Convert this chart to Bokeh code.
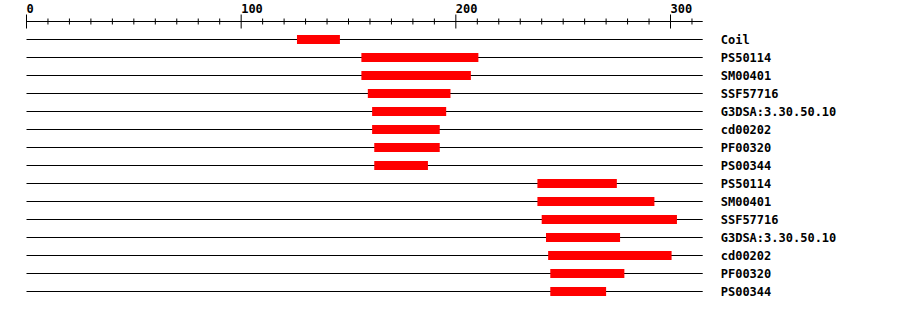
from bokeh.plotting import figure
from bokeh.models import Range1d, ColumnDataSource
from bokeh.core.properties import value
from bokeh.embed import file_html
from bokeh.resources import INLINE

# ---- data ----
labels = ["Coil", "PS50114", "SM00401", "SSF57716", "G3DSA:3.30.50.10", "cd00202",
          "PF00320", "PS00344", "PS50114", "SM00401", "SSF57716",
          "G3DSA:3.30.50.10", "cd00202", "PF00320", "PS00344"]
starts = [126, 156, 156, 159, 161, 161, 162, 162, 238, 238, 240, 242, 243, 244, 244]
ends = [146, 210.5, 207, 197.5, 195.5, 192.5, 192.5, 187, 275, 292.5, 303, 276.5, 300.5, 278.5, 270]
seq_length = 315
major_ticks = [0, 100, 200, 300]
major_labels = ["0", "100", "200", "300"]
minor_ticks = [t for t in range(10, 320, 10) if t % 100 != 0]

W, H = 900, 310
x0_px, px_per_unit = 26.0, 2.1467
row0_px, row_step = 39.0, 18.0

x_range = Range1d(-x0_px / px_per_unit, (W - x0_px) / px_per_unit)
y_range = Range1d((H - row0_px) / row_step, -row0_px / row_step)

p = figure(width=W, height=H, x_range=x_range, y_range=y_range,
           output_backend="svg", toolbar_location=None,
           x_axis_location=None, y_axis_location=None, min_border=0)
p.grid.visible = False
p.outline_line_color = None
p.background_fill_color = "white"
p.border_fill_color = "white"

rows = list(range(len(labels)))
src = ColumnDataSource(dict(y=rows, start=starts, end=ends, label=labels,
                            x0=[0] * len(rows), x1=[seq_length] * len(rows)))

# baselines
p.segment(x0="x0", y0="y", x1="x1", y1="y", source=src, line_color="black", line_width=1)
# feature bars
p.hbar(y="y", left="start", right="end", height=0.5, source=src,
       fill_color="#ff0000", line_color=None)
# labels
p.text(x="x1", y="y", text="label", source=src, x_offset=18,
       text_font=value("DejaVu Sans Mono"), text_font_style="bold",
       text_font_size="12px", text_baseline="middle", text_align="left",
       text_color="black")

# ruler
axis_y = -1.0
p.segment(x0=[0], y0=[axis_y], x1=[seq_length], y1=[axis_y], line_color="black", line_width=1)
p.segment(x0=major_ticks, y0=[axis_y - 7 / row_step] * len(major_ticks),
          x1=major_ticks, y1=[axis_y + 7 / row_step] * len(major_ticks),
          line_color="black", line_width=1)
p.segment(x0=minor_ticks, y0=[axis_y - 3 / row_step] * len(minor_ticks),
          x1=minor_ticks, y1=[axis_y + 3 / row_step] * len(minor_ticks),
          line_color="black", line_width=1)
p.text(x=major_ticks, y=[axis_y - 13.5 / row_step] * len(major_ticks), text=major_labels,
       text_font=value("DejaVu Sans Mono"), text_font_style="bold",
       text_font_size="12px", text_baseline="middle", text_align="left",
       text_color="black")

open("out.html", "w").write(file_html(p, INLINE))
